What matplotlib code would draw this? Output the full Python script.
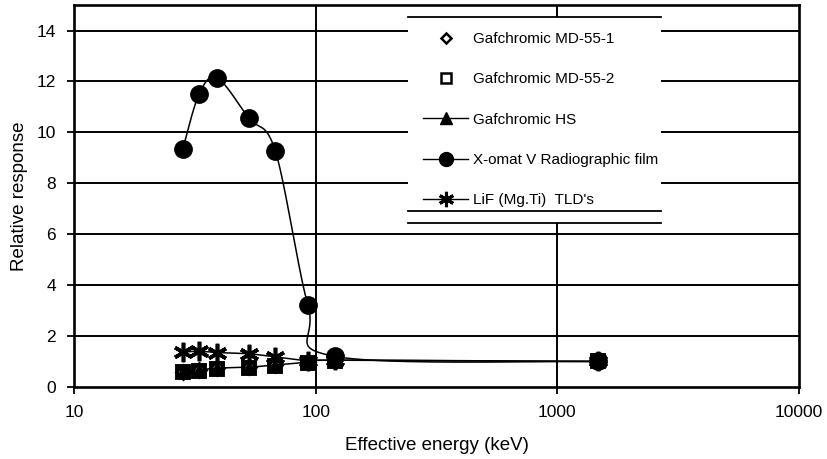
import numpy as np
import matplotlib
matplotlib.use("Agg")
import matplotlib.pyplot as plt
from matplotlib.lines import Line2D
from matplotlib.patches import Rectangle
from matplotlib.ticker import FixedLocator, FixedFormatter, NullLocator

plt.rcParams['font.family'] = ['Liberation Sans', 'DejaVu Sans']

# Effective energies (keV) and relative responses
energy = [28.2, 33.0, 39.2, 53.0, 68.2, 93.0, 120.0, 1470.0]
md55_1 = [0.60, 0.66, 0.73, 0.77, 0.85, 0.96, 1.04, 1.00]
md55_2 = [0.58, 0.64, 0.71, 0.75, 0.82, 0.94, 1.02, 1.00]
hs = [0.62, 0.67, 0.74, 0.78, 0.86, 0.97, 1.05, 1.00]
xomat = [9.35, 11.52, 12.13, 10.55, 9.25, 3.20, 1.20, 1.00]
lif = [1.37, 1.40, 1.35, 1.30, 1.18, 1.03, 1.05, 1.00]

labels = ["Gafchromic MD-55-1", "Gafchromic MD-55-2", "Gafchromic HS",
          "X-omat V Radiographic film", "LiF (Mg.Ti)  TLD's"]
xticks = [10, 100, 1000, 10000]
xtick_labels = ["10", "100", "1000", "10000"]
yticks = [0, 2, 4, 6, 8, 10, 12, 14]

fig = plt.figure(figsize=(8.27, 4.59), dpi=100)
ax = fig.add_axes([0.0895, 0.157, 0.8765, 0.832])
ax.set_xscale("log")
ax.set_xlim(10, 10000)
ax.set_ylim(0, 15)


def smooth(ax, xs, ys, n=40):
    """Excel-style smoothed line: Catmull-Rom Bezier in display space."""
    pts = ax.transData.transform(np.column_stack([xs, ys]))
    out = [pts[0]]
    m = len(pts)
    for i in range(m - 1):
        p0 = pts[max(i - 1, 0)]
        p1 = pts[i]
        p2 = pts[i + 1]
        p3 = pts[min(i + 2, m - 1)]
        c1 = p1 + (p2 - p0) / 6.0
        c2 = p2 - (p3 - p1) / 6.0
        t = np.linspace(0, 1, n)[1:, None]
        seg = ((1 - t) ** 3) * p1 + 3 * ((1 - t) ** 2) * t * c1 \
            + 3 * (1 - t) * t ** 2 * c2 + t ** 3 * p2
        out.extend(seg)
    out = np.array(out)
    d = ax.transData.inverted().transform(out)
    return d[:, 0], d[:, 1]


# gridlines
for yv in yticks[1:]:
    ax.axhline(yv, color="black", lw=1.4, zorder=1)
for xv in [100, 1000]:
    ax.axvline(xv, color="black", lw=1.4, zorder=1)

lw = 1.1
# Gafchromic MD-55-1 (markers only)
ax.plot(energy, md55_1, ls="none", marker="D", ms=7, mfc="none",
        mec="black", mew=2.0, zorder=3)
# Gafchromic MD-55-2 (markers only)
ax.plot(energy, md55_2, ls="none", marker="s", ms=9, mfc="none",
        mec="black", mew=2.8, zorder=3)
# Gafchromic HS
sx, sy = smooth(ax, energy, hs)
ax.plot(sx, sy, color="black", lw=lw, zorder=3)
ax.plot(energy, hs, ls="none", marker="^", ms=8.5, color="black", zorder=4)
# X-omat V
sx, sy = smooth(ax, energy, xomat)
ax.plot(sx, sy, color="black", lw=lw, zorder=3)
ax.plot(energy, xomat, ls="none", marker="o", ms=12.5, color="black", zorder=4)
# LiF TLDs
sx, sy = smooth(ax, energy, lif)
ax.plot(sx, sy, color="black", lw=lw, zorder=3)
ax.plot(energy, lif, ls="none", marker=(6, 2, 0), ms=14, color="black",
        mew=2.6, zorder=4)

# axes styling
for s in ax.spines.values():
    s.set_linewidth(1.9)
    s.set_color("black")
ax.xaxis.set_major_locator(FixedLocator(xticks))
ax.xaxis.set_major_formatter(FixedFormatter(xtick_labels))
ax.xaxis.set_minor_locator(NullLocator())
ax.set_yticks(yticks)
ax.tick_params(axis="both", direction="out", length=5, width=1.3,
               labelsize=12.5, colors="black")
ax.tick_params(axis="x", pad=8)
ax.tick_params(axis="y", pad=8)
ax.set_xlabel("Effective energy (keV)", fontsize=13.5, labelpad=12)
ax.set_ylabel("Relative response", fontsize=13.5, labelpad=6)

# legend
handles = [
    Line2D([], [], ls="none", marker="D", ms=5.5, mfc="none", mec="black", mew=1.8),
    Line2D([], [], ls="none", marker="s", ms=7, mfc="none", mec="black", mew=1.8),
    Line2D([], [], color="black", lw=1.0, marker="^", ms=8),
    Line2D([], [], color="black", lw=1.0, marker="o", ms=10),
    Line2D([], [], color="black", lw=1.0, marker=(6, 2, 0), ms=11, mew=2.2),
]
leg = ax.legend(handles, labels, loc="upper left", bbox_to_anchor=(0.461, 0.969),
                borderaxespad=0, fontsize=11, labelspacing=1.72,
                handlelength=2.9, handletextpad=0.35, borderpad=1.0,
                frameon=True, fancybox=False, framealpha=0,
                facecolor="none", edgecolor="none")
leg.set_zorder(6)

fig.canvas.draw()
bb = leg.get_window_extent().transformed(ax.transAxes.inverted())
right = max(t.get_window_extent().x1 for t in leg.get_texts()) + 3
right = ax.transAxes.inverted().transform((right, 0))[0]
ax.add_patch(Rectangle((bb.x0, bb.y0), right - bb.x0, bb.y1 - bb.y0,
                       transform=ax.transAxes, facecolor="white",
                       edgecolor="none", zorder=5))
for yy in (bb.y1, bb.y0 + 0.03, bb.y0):
    ax.plot([bb.x0, right], [yy, yy], transform=ax.transAxes, color="black",
            lw=1.3, zorder=7, clip_on=False)

fig.savefig("out.png", dpi=100)
